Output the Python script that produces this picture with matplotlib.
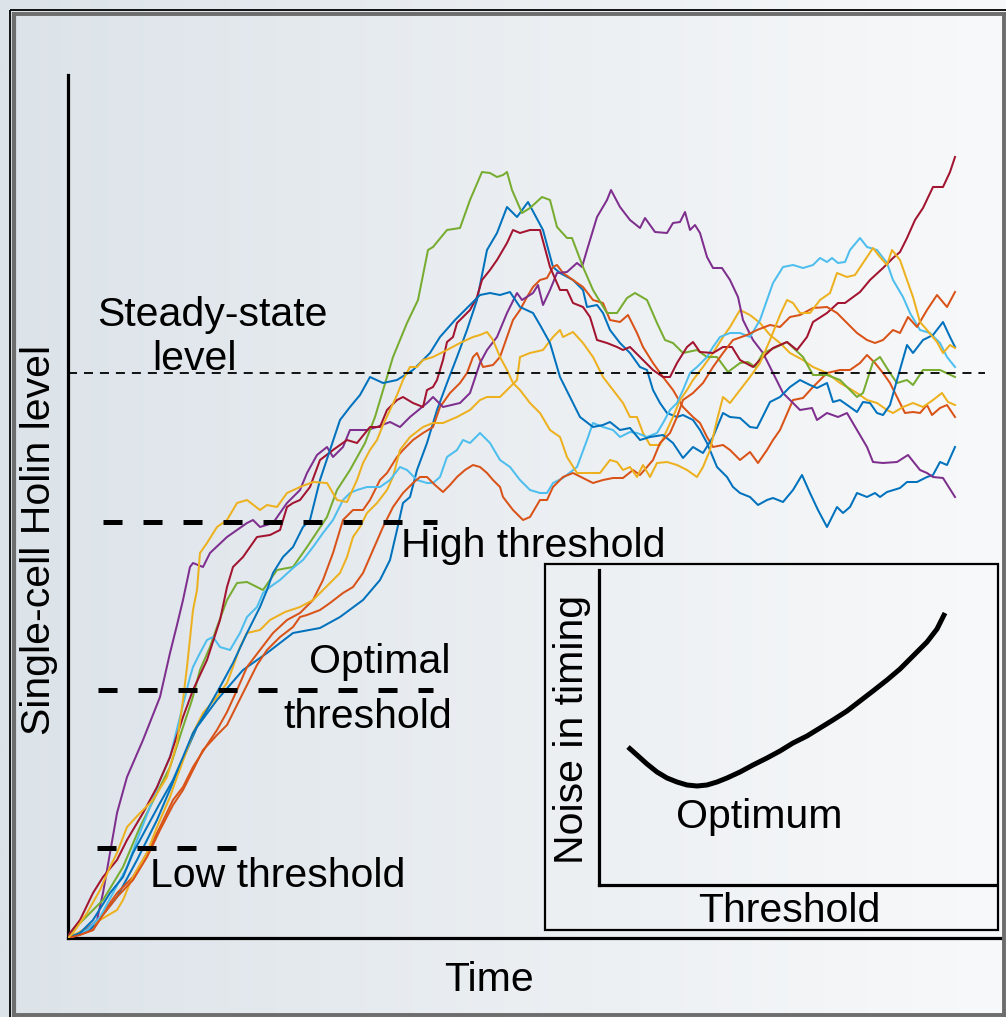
import numpy as np
import matplotlib
matplotlib.use("Agg")
import matplotlib.pyplot as plt
from matplotlib.patches import Rectangle

plt.rcParams['font.family'] = ['Liberation Sans', 'DejaVu Sans']
plt.rcParams['lines.scale_dashes'] = False

# ---------------- data: (time, single-cell Holin level) ----------------
blue_1 = [(0,0),(22,8),(49,41),(69,78),(89,118),(109,165),(129,211),(149,238),(175,268),(199,285),
          (225,305),(252,310),(272,321),(295,338),(312,358),(322,378),(329,408),(335,435),(342,441),
          (349,468),(359,495),(369,528),(379,555),(389,581),(399,608),(409,638),(419,688),(429,705),
          (439,731),(449,721),(460,736),(475,708),(485,671),(492,665),(505,658),(515,648),(519,631),
          (529,633),(535,625),(542,608),(552,595),(562,585),(572,571),(579,568),(585,548),(592,535),
          (599,525),(609,521),(615,523),(625,518),(632,508),(639,495),(649,471),(659,461),(665,451),
          (672,445),(682,441),(690,433),(699,438),(705,440),(715,436),(725,448),(734,463),(742,445),
          (750,428),(759,411),(769,431),(775,425),(782,431),(789,445),(799,441),(807,445),(812,441),
          (819,446),(832,450),(839,456),(849,456),(859,461),(865,463),(872,476),(879,473),(887,491)]

blue_2 = [(0,0),(12,5),(25,18),(42,45),(55,61),(65,85),(79,111),(92,135),(105,158),(115,181),
          (125,205),(139,228),(152,251),(165,275),(179,305),(192,331),(199,348),(205,365),(215,381),
          (225,391),(235,411),(242,418),(252,458),(262,488),(272,518),(282,531),(292,543),(302,561),
          (315,555),(329,558),(345,568),(362,585),(372,601),(387,618),(402,633),(412,643),(422,645),
          (432,643),(442,646),(452,631),(465,625),(472,613),(482,595),(492,561),(502,541),(512,521),
          (525,511),(535,513),(542,516),(552,508),(562,510),(572,498),(582,501),(595,503),(605,495),
          (615,480),(625,491),(635,485),(645,501),(655,525),(662,521),(672,520),(682,511),(689,510),
          (702,536),(712,541),(722,551),(732,558),(742,553),(749,550),(759,555),(765,536),(772,538),
          (782,531),(789,526),(795,536),(802,535),(809,525),(815,523),(822,533),(829,558),(839,593),
          (845,585),(855,598),(865,603),(875,616),(882,601),(887,591)]

orange_1 = [(0,0),(7,2),(25,8),(35,25),(49,45),(65,61),(79,85),(92,111),(105,138),(115,151),
            (125,171),(139,193),(149,208),(159,226),(169,248),(179,271),(192,288),(205,305),(219,318),
            (232,325),(245,338),(255,358),(265,385),(275,418),(285,428),(295,428),(302,438),(312,458),
            (319,465),(329,481),(335,488),(345,498),(355,505),(365,511),(372,531),(382,545),(392,555),
            (399,565),(405,581),(409,585),(415,571),(425,573),(432,581),(439,601),(445,618),(452,628),
            (459,641),(465,651),(472,658),(479,660),(485,671),(489,673),(495,665),(505,658),(515,651),
            (525,638),(535,635),(542,618),(552,616),(560,623),(569,605),(575,591),(585,575),(595,561),
            (605,548),(615,531),(625,521),(632,515),(639,501),(645,491),(655,493),(662,488),(672,478),
            (682,486),(690,475),(699,488),(705,498),(712,508),(725,538),(735,540),(745,551),(759,565),
            (772,568),(782,568),(792,575),(799,583),(807,575),(815,565),(822,555),(829,541),(837,525),
            (845,526),(852,525),(859,533),(864,523),(872,530),(879,533),(887,521)]

orange_2 = [(0,0),(12,3),(25,8),(35,23),(49,41),(65,58),(79,81),(92,108),(105,133),(115,148),
            (125,168),(135,188),(149,203),(159,213),(169,233),(179,253),(189,273),(199,288),(212,301),
            (225,311),(232,321),(239,323),(252,328),(262,335),(275,345),(285,351),(295,365),(305,388),
            (315,411),(325,431),(335,445),(345,455),(352,461),(359,461),(367,453),(375,446),(382,453),
            (389,461),(397,468),(405,473),(412,471),(419,465),(425,458),(432,451),(435,441),(445,428),
            (455,418),(462,421),(472,438),(479,438),(485,451),(495,461),(505,465),(515,460),(525,455),
            (535,458),(545,460),(555,460),(565,468),(572,463),(579,471),(585,478),(592,495),(602,505),
            (609,521),(615,538),(625,545),(635,555),(645,571),(655,585),(665,598),(679,603),(689,608),
            (702,613),(712,611),(722,621),(732,623),(745,630),(759,631),(769,625),(779,615),(789,605),
            (799,598),(807,595),(815,598),(825,608),(832,605),(840,621),(849,611),(859,628),(869,643),
            (879,631),(887,646)]

yellow_1 = [(0,0),(15,8),(32,18),(49,28),(55,38),(62,55),(69,68),(79,85),(89,111),(102,141),
            (109,161),(119,188),(125,205),(135,225),(149,241),(159,255),(165,271),(172,291),(179,305),
            (192,308),(202,318),(217,326),(232,331),(245,338),(252,345),(262,355),(272,365),(279,381),
            (285,401),(292,411),(299,425),(309,435),(319,448),(325,461),(332,488),(342,501),(355,511),
            (365,515),(375,515),(389,521),(402,528),(412,538),(419,541),(432,541),(439,548),(449,558),
            (452,581),(462,585),(475,588),(485,601),(492,608),(495,601),(505,606),(515,595),(525,581),
            (535,561),(545,548),(555,535),(562,521),(569,521),(575,505),(582,493),(592,493),(599,508),
            (605,521),(612,538),(619,548),(625,558),(635,571),(645,585),(655,601),(662,611),(672,628),
            (682,623),(692,615),(702,603),(712,595),(722,585),(735,578),(745,571),(759,565),(772,555),
            (779,551),(789,545),(799,538),(809,535),(819,528),(825,525),(835,531),(845,535),(855,531),
            (865,538),(874,545),(880,536),(887,533)]

yellow_2 = [(0,0),(5,5),(19,25),(32,48),(42,71),(49,85),(59,111),(72,125),(85,138),(99,161),
            (109,195),(115,238),(119,271),(125,328),(129,348),(132,385),(139,395),(149,411),(159,418),
            (169,435),(179,438),(192,428),(199,433),(209,431),(219,445),(232,451),(245,456),(259,455),
            (269,438),(279,436),(289,458),(295,475),(302,488),(309,498),(315,513),(322,528),(329,543),
            (335,558),(342,571),(349,571),(355,578),(365,581),(379,588),(392,595),(405,601),(412,603),
            (419,606),(425,598),(432,581),(439,568),(445,555),(452,548),(462,535),(472,525),(482,508),
            (492,501),(499,481),(509,465),(522,465),(532,465),(542,478),(549,476),(555,468),(562,471),
            (569,461),(575,473),(582,461),(589,475),(599,476),(609,473),(619,468),(629,461),(635,471),
            (642,488),(649,518),(655,541),(662,535),(672,548),(682,561),(692,575),(702,598),(712,623),
            (719,638),(725,635),(732,625),(742,625),(752,638),(762,645),(769,665),(779,661),(787,663),
            (795,675),(805,690),(812,681),(819,673),(824,688),(832,678),(839,658),(845,641),(852,616),
            (859,608),(869,596),(875,585),(882,593),(887,590)]

purple = [(0,0),(15,5),(29,18),(35,45),(42,85),(49,125),(59,161),(75,198),(92,241),(102,285),
          (109,313),(115,338),(122,371),(125,375),(135,371),(142,385),(159,401),(179,415),(185,418),
          (192,411),(205,415),(219,435),(232,448),(239,465),(249,483),(259,491),(265,481),(275,491),
          (282,508),(299,508),(309,511),(322,516),(332,511),(342,521),(359,535),(365,541),(375,531),
          (392,535),(402,545),(412,575),(419,588),(429,601),(439,625),(449,645),(454,638),(465,645),
          (470,653),(475,633),(482,648),(489,665),(499,666),(509,675),(514,671),(519,688),(529,721),
          (539,738),(543,748),(552,731),(562,718),(572,710),(577,720),(587,706),(599,705),(605,715),
          (612,716),(617,726),(622,708),(627,713),(632,705),(639,681),(645,670),(654,670),(662,658),
          (670,641),(675,618),(685,598),(695,585),(702,571),(715,545),(732,528),(744,530),(749,518),
          (759,525),(770,521),(779,525),(789,508),(799,491),(805,476),(815,475),(829,476),(840,483),
          (852,468),(859,465),(865,461),(875,460),(887,441)]

green = [(0,0),(2,5),(15,18),(35,38),(55,71),(72,111),(89,145),(102,171),(115,211),(124,238),
         (132,268),(142,291),(149,311),(159,338),(169,355),(179,356),(195,348),(209,368),(225,371),
         (239,391),(259,421),(269,448),(282,468),(297,495),(307,521),(319,561),(325,581),(339,615),
         (350,638),(360,688),(365,691),(379,708),(392,710),(402,738),(414,766),(422,765),(429,761),
         (435,763),(439,766),(444,748),(454,725),(462,730),(474,741),(482,738),(489,711),(499,700),
         (504,700),(515,671),(525,648),(539,625),(549,625),(559,640),(567,645),(579,638),(589,615),
         (597,598),(605,595),(615,585),(629,588),(639,581),(649,581),(660,566),(672,575),(680,576),
         (687,571),(695,585),(702,588),(719,596),(735,581),(745,563),(759,563),(772,558),(789,541),
         (795,545),(805,576),(812,581),(822,565),(829,555),(839,558),(845,553),(855,568),(872,568),
         (887,561)]

cyan = [(0,0),(19,8),(32,21),(45,45),(59,71),(69,98),(82,131),(92,158),(102,181),(112,221),
        (122,261),(125,271),(132,285),(139,298),(145,301),(152,291),(162,288),(172,305),(179,321),
        (189,331),(195,345),(202,351),(212,358),(225,370),(235,378),(245,391),(255,405),(265,418),
        (275,438),(282,445),(289,448),(299,451),(312,451),(322,458),(332,471),(339,468),(349,458),
        (359,455),(365,455),(372,461),(379,481),(389,488),(395,498),(402,495),(412,505),(422,495),
        (432,478),(442,471),(452,458),(462,448),(472,445),(479,445),(485,455),(495,460),(509,471),
        (519,498),(525,515),(535,511),(545,508),(552,501),(562,506),(569,505),(579,501),(589,505),
        (595,515),(602,528),(609,535),(615,548),(622,565),(629,571),(639,581),(645,591),(652,601),
        (662,605),(672,605),(682,601),(692,618),(699,638),(705,655),(715,671),(725,673),(735,670),
        (745,673),(752,680),(759,676),(764,680),(770,675),(777,676),(782,688),(792,700),(799,691),
        (809,688),(819,675),(825,658),(835,641),(842,625),(852,608),(862,605),(872,595),(879,581),
        (887,571)]

dark_red = [(0,0),(2,5),(12,18),(25,45),(35,61),(49,78),(59,98),(75,125),(89,151),(102,181),
            (115,221),(125,248),(139,278),(152,318),(159,351),(165,371),(175,381),(189,401),(202,403),
            (212,408),(219,431),(225,435),(232,438),(242,451),(252,478),(265,488),(279,498),(289,495),
            (302,511),(312,511),(319,528),(329,538),(335,541),(345,535),(355,531),(359,548),(365,551),
            (369,558),(375,578),(379,596),(385,601),(389,615),(395,621),(402,628),(409,641),(414,658),
            (422,668),(429,678),(439,695),(445,708),(452,705),(462,708),(472,708),(482,671),(492,648),
            (499,648),(505,635),(515,631),(522,621),(529,598),(539,595),(549,591),(555,588),(562,591),
            (572,581),(585,568),(595,561),(602,561),(609,575),(619,591),(625,596),(632,586),(645,585),
            (655,591),(664,591),(672,578),(685,571),(694,580),(705,590),(719,596),(729,588),(739,601),
            (745,616),(759,625),(770,635),(777,635),(792,646),(802,658),(815,670),(825,680),(832,686),
            (839,700),(847,718),(855,730),(865,751),(875,751),(882,766),(887,781)]

series = [(blue_1, '#0072BD'), (orange_1, '#D95319'), (yellow_1, '#EDB120'),
          (purple, '#7E2F8E'), (green, '#77AC30'), (cyan, '#4DBEEE'),
          (dark_red, '#A2142F'), (blue_2, '#0072BD'), (orange_2, '#D95319'),
          (yellow_2, '#EDB120')]

steady_state = 565
thresholds = {'High': (35, 369, 416), 'Optimal': (30, 365, 248), 'Low': (29, 169, 90)}

# inset: noise in timing vs threshold
inset_threshold = [29, 38, 48, 58, 68, 78, 88, 98, 108, 118, 128, 141, 154, 168, 181, 194, 208,
                   221, 234, 248, 261, 274, 288, 301, 314, 328, 338, 346]
inset_noise = [138, 130, 121, 113, 107, 103, 100, 99, 100, 103, 107, 113, 120, 127, 134, 142, 149,
               157, 165, 174, 184, 194, 205, 216, 229, 243, 256, 272]

# ---------------- figure ----------------
W, H = 1006, 1017
fig = plt.figure(figsize=(W / 100, H / 100), dpi=100)

bg = fig.add_axes([0, 0, 1, 1])
bg.set_xlim(0, W)
bg.set_ylim(H, 0)
bg.axis('off')
g = np.linspace(0, 1, 256)[:, None]
left_c = np.array([220, 227, 233]) / 255
right_c = np.array([248, 249, 250]) / 255
img = (left_c[None, :] * (1 - g) + right_c[None, :] * g)[None, :, :]
bg.imshow(img, extent=[0, W, H, 0], aspect='auto', zorder=0, interpolation='bilinear')

# frame
gray = '#6d6d6d'
bg.plot([10, 10], [10, H], color='black', lw=1.3, zorder=2, solid_capstyle='butt')
bg.plot([10, W], [10, 10], color='black', lw=1.3, zorder=2, solid_capstyle='butt')
bg.plot([14, 14], [12, H], color=gray, lw=3.0, zorder=2, solid_capstyle='butt')
bg.plot([12, W], [13.5, 13.5], color=gray, lw=2.8, zorder=2, solid_capstyle='butt')
bg.plot([1004, 1004], [12, H], color=gray, lw=2.8, zorder=2, solid_capstyle='butt')
bg.plot([12, W], [1015, 1015], color=gray, lw=2.8, zorder=2, solid_capstyle='butt')

# main axes
ax = fig.add_axes([68 / W, (H - 938) / H, 932 / W, 863 / H])
ax.patch.set_alpha(0)
ax.set_xlim(0, 932)
ax.set_ylim(0, 863)
ax.set_xticks([])
ax.set_yticks([])
for s in ['top', 'right']:
    ax.spines[s].set_visible(False)
for s in ['left', 'bottom']:
    ax.spines[s].set_linewidth(2.3)
    ax.spines[s].set_color('black')

for data, col in series:
    t, v = zip(*data)
    ax.plot(t, v, color=col, lw=1.45, zorder=3)

ax.plot([0, 917], [steady_state, steady_state], color='black', lw=1.3,
        dashes=(6.5, 5.0), zorder=4, dash_capstyle='butt')
for name, (t0, t1, lvl) in thresholds.items():
    ax.plot([t0, t1], [lvl, lvl], color='black', lw=3.6, dashes=(13.7, 15.1),
            zorder=4, dash_capstyle='butt')

fs = 29.5
bg.text(97, 326, 'Steady-state', fontsize=fs, ha='left', va='baseline')
bg.text(152, 370, 'level', fontsize=fs, ha='left', va='baseline')
bg.text(401, 557, 'High threshold', fontsize=fs, ha='left', va='baseline')
bg.text(451, 673, 'Optimal', fontsize=fs, ha='right', va='baseline')
bg.text(452, 728, 'threshold', fontsize=fs, ha='right', va='baseline')
bg.text(150, 887, 'Low threshold', fontsize=fs, ha='left', va='baseline')
bg.text(489, 991, 'Time', fontsize=fs, ha='center', va='baseline')
bg.text(39, 540, 'Single-cell Holin level', fontsize=fs, rotation=90, ha='center', va='center')

# inset
bg.add_patch(Rectangle((545, 564), 453, 366, fill=False, lw=1.6, edgecolor='black', zorder=5))
ia = fig.add_axes([599 / W, (H - 885) / H, 396 / W, 315 / H])
ia.patch.set_alpha(0)
ia.set_xlim(0, 396)
ia.set_ylim(0, 315)
ia.set_xticks([])
ia.set_yticks([])
for s in ['top', 'right']:
    ia.spines[s].set_visible(False)
for s in ['left', 'bottom']:
    ia.spines[s].set_linewidth(2.3)
ia.plot(inset_threshold, inset_noise, color='black', lw=3.6, solid_capstyle='butt',
        solid_joinstyle='round')

bg.text(759, 828, 'Optimum', fontsize=fs, ha='center', va='baseline', zorder=6)
bg.text(789, 922, 'Threshold', fontsize=fs, ha='center', va='baseline', zorder=6)
bg.text(572, 729, 'Noise in timing', fontsize=fs, rotation=90, ha='center', va='center', zorder=6)

fig.savefig('out.png', dpi=100)
